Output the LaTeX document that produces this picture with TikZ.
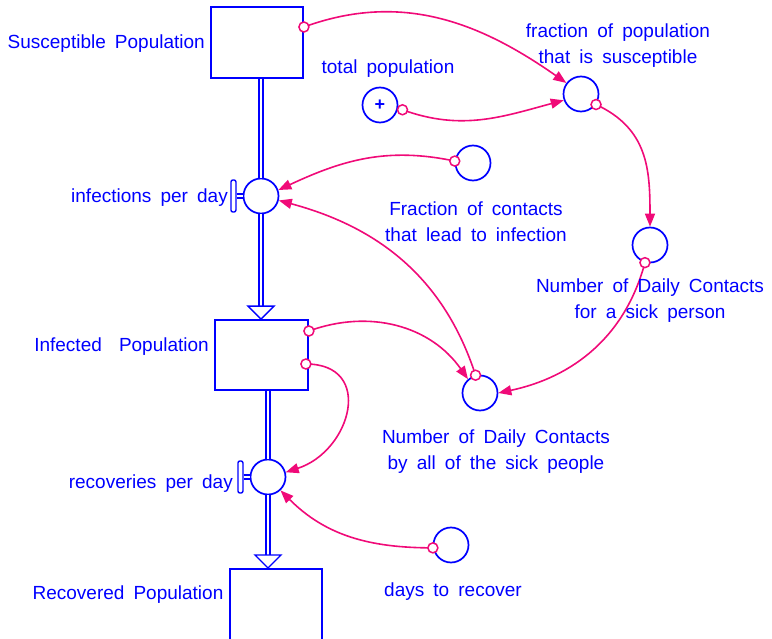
\documentclass[tikz,border=0pt]{standalone}
\usepackage{fontspec}
\setmainfont{Liberation Sans}
\usetikzlibrary{arrows.meta,calc}
\definecolor{vblue}{RGB}{0,0,255}
\definecolor{vpink}{RGB}{240,10,120}
\begin{document}
\begin{tikzpicture}[x=1pt,y=1pt,
  stock/.style={draw=vblue, line width=1.8pt, minimum width=92pt, minimum height=71pt, inner sep=0pt},
  aux/.style={draw=vblue, circle, line width=1.7pt, minimum size=35pt, inner sep=0pt},
  valvebar/.style={draw=vblue, line width=1.4pt, fill=white, rounded corners=2pt, minimum width=5pt, minimum height=32pt, inner sep=0pt},
  lbl/.style={text=vblue, font={\fontsize{19}{26}\selectfont\spaceskip=0.48em\relax}, inner sep=0pt, align=center},
  link/.style={draw=vpink, line width=1.6pt, -{Triangle[length=13pt,width=10pt]}},
  pipe/.style={draw=vblue, double=white, line width=1.3pt, double distance=2.6pt},
  tip/.style={draw=vblue, line width=1.4pt, fill=white, line join=miter},
  tail/.style={draw=vpink, line width=1.5pt, fill=white}
]
\useasboundingbox (0,0) rectangle (772,-639);

% stocks
\node[stock] (S) at (257,-42.5) {};
\node[stock, minimum width=93pt, minimum height=70pt] (I) at (261.5,-355) {};
\node[stock, anchor=north] (R) at (276,-568) {};

% valves
\node[aux] (V1) at (261,-196) {};
\node[aux] (V2) at (268,-477) {};
\node[valvebar, anchor=east] (B1) at ([xshift=-6pt]V1.west) {};
\node[valvebar, anchor=east] (B2) at ([xshift=-6pt]V2.west) {};

% auxiliaries
\node[aux] (TP) at (380,-105) {};
\node[text=vblue, font=\fontsize{18}{18}\selectfont\bfseries, inner sep=0pt] (plus) at (TP) {+};
\node[aux] (FS) at (581,-94) {};
\node[aux] (FC) at (473,-163) {};
\node[aux] (ND) at (650,-245) {};
\node[aux] (NA) at (480,-393) {};
\node[aux] (DR) at (451,-545) {};

% pipes
\draw[pipe] (B1.east) -- (V1.west);
\draw[pipe] (B2.east) -- (V2.west);
\draw[pipe] (S.south -| V1) -- (V1.north);
\coordinate (A1) at ($(I.north -| V1)+(0,13)$);
\draw[pipe] (V1.south) -- (A1);
\draw[tip] ([xshift=-13pt]A1) -- ([xshift=13pt]A1) -- (I.north -| A1) -- cycle;
\draw[pipe] (I.south -| V2) -- (V2.north);
\coordinate (A2) at ($(R.north -| V2)+(0,13)$);
\draw[pipe] (V2.south) -- (A2);
\draw[tip] ([xshift=-13pt]A2) -- ([xshift=13pt]A2) -- (R.north -| A2) -- cycle;

% connector tails
\coordinate (t1) at ([yshift=15.5pt]S.east);
\coordinate (t2) at ($(TP)+(-12:23)$);
\coordinate (t3) at (FS.-35);
\coordinate (t4) at (ND.-106);
\coordinate (t5) at (FC.174);
\coordinate (t6) at (NA.104);
\coordinate (t7) at ([yshift=24pt]I.east);
\coordinate (t8) at ([shift={(-3pt,-9pt)}]I.east);
\coordinate (t9) at (DR.189);

% connectors
\draw[link] (t1) to[out=20,in=145] (FS.143);
\draw[link] (t2) to[out=-20,in=195] (FS.200);
\draw[link] (t3) to[out=-25,in=90,looseness=1.1] (ND.90);
\draw[link] (t4) to[out=-105,in=12] (NA.0);
\draw[link] (t5) to[out=168,in=25] (V1.19);
\draw[link] (t6) to[out=108,in=-15] (V1.-14);
\draw[link] (t7) to[out=20,in=125] (NA.131);
\draw[link] (t8) to[out=0,in=18,looseness=1.6] (V2.15);
\draw[link] (t9) to[out=180,in=-45] (V2.-47);

\foreach \t in {t1,t2,t3,t4,t5,t6,t7,t8,t9}
  \draw[tail] (\t) circle (5pt);

% labels
\node[lbl, anchor=east] (lS) at (205,-44) {Susceptible Population};
\node[lbl] (lFS) at (618,-46) {fraction of population\\that is susceptible};
\node[lbl] (lTP) at (388,-69) {total population};
\node[lbl, anchor=east] (lV1) at (228,-198) {infections per day};
\node[lbl] (lFC) at (476,-222) {Fraction of contacts\\that lead to infection};
\node[lbl] (lND) at (650,-301) {Number of Daily Contacts\\for a sick person};
\node[lbl, anchor=east] (lI) at (209,-347) {Infected\hspace{8pt} Population};
\node[lbl] (lNA) at (496,-452) {Number of Daily Contacts\\by all of the sick people};
\node[lbl, anchor=east] (lV2) at (233,-484) {recoveries per day};
\node[lbl] (lR) at (128,-595) {Recovered Population};
\node[lbl] (lDR) at (453,-592) {days to recover};
\end{tikzpicture}
\end{document}
